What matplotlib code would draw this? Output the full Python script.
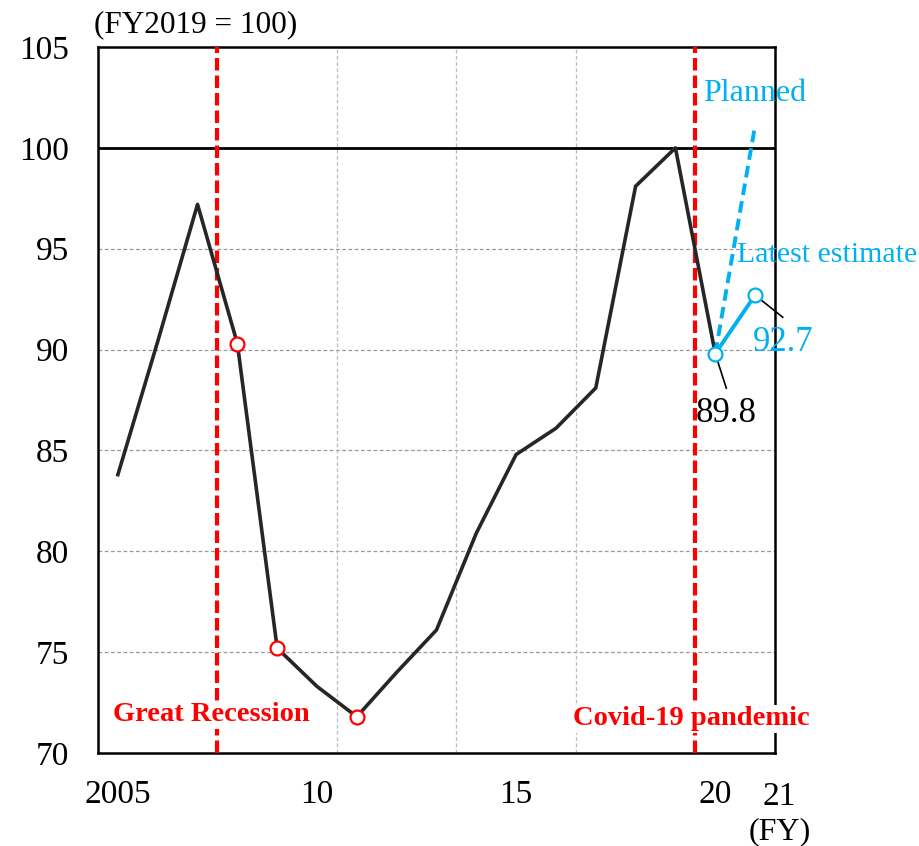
import matplotlib
matplotlib.use("Agg")
import matplotlib.pyplot as plt

# Index of activity (FY2019 = 100)
years = [2005, 2006, 2007, 2008, 2009, 2010, 2011, 2012, 2013, 2014,
         2015, 2016, 2017, 2018, 2019, 2020]
values = [83.8, 90.4, 97.2, 90.3, 75.2, 73.3, 71.8, 74.0, 76.1, 80.9,
          84.8, 86.1, 88.1, 98.1, 100.0, 89.8]
marked_years = [2008, 2009, 2011]

planned_years = [2020, 2021]
planned_values = [89.8, 101.1]
latest_years = [2020, 2021]
latest_values = [89.8, 92.7]

recession_lines = [2007.5, 2019.5]
xtick_pos = [2005, 2010, 2015, 2020]
xtick_labels = ["2005", "10", "15", "20"]

RED = "#FF0000"
BLUE = "#00B0F0"
DARK = "#262626"

plt.rcParams["font.family"] = ["Liberation Serif", "DejaVu Serif"]

fig = plt.figure(figsize=(9.19, 8.46), dpi=100)
ax = fig.add_axes([0.1066, 0.1099, 0.7367, 0.8345])

ax.set_xlim(2004.5, 2021.5)
ax.set_ylim(70, 105)
ax.set_yticks(range(70, 106, 5))
ax.tick_params(axis="y", length=0, labelsize=24, pad=21)
ax.set_xticks(xtick_pos, labels=xtick_labels)
ax.tick_params(axis="x", length=0, labelsize=24, pad=19)

for y in range(75, 100, 5):
    ax.axhline(y, color="#999999", lw=0.9, ls=(0, (3, 2)), zorder=1)
for x in [2010.5, 2013.5, 2016.5]:
    ax.axvline(x, color="#BBBBBB", lw=0.9, ls=(0, (3, 2)), zorder=1)
ax.axhline(100, color="black", lw=2, zorder=2)

for x in recession_lines:
    ax.axvline(x, color=RED, lw=3, ls=(0, (3, 1.2)), zorder=3)

for s in ax.spines.values():
    s.set_linewidth(1.8)

ax.plot(years, values, color=DARK, lw=2.6, zorder=4)
mk = [values[years.index(y)] for y in marked_years]
ax.plot(marked_years, mk, ls="none", marker="o", ms=10, mfc="white",
        mec=RED, mew=1.6, zorder=5)

ax.plot(planned_years, planned_values, color=BLUE, lw=2.8,
        ls=(0, (3, 1.6)), zorder=4)
ax.plot(latest_years, latest_values, color=BLUE, lw=2.8, marker="o",
        ms=10, mfc="white", mec=BLUE, mew=1.6, zorder=5)

# value labels with leader lines
ax.annotate("", xy=(latest_years[0], latest_values[0]), xytext=(8, -25),
            textcoords="offset points",
            arrowprops=dict(arrowstyle="-", color="black", lw=1.2,
                            shrinkA=0, shrinkB=0))
ax.annotate(f"{latest_values[0]}", xy=(latest_years[0], latest_values[0]),
            xytext=(8, -43), textcoords="offset points",
            ha="center", va="center", fontsize=25, color="black")
ax.annotate("", xy=(latest_years[1], latest_values[1]), xytext=(20, -16),
            textcoords="offset points",
            arrowprops=dict(arrowstyle="-", color="black", lw=1.2,
                            shrinkA=0, shrinkB=0))
ax.annotate(f"{latest_values[1]}", xy=(latest_years[1], latest_values[1]),
            xytext=(20, -34), textcoords="offset points",
            ha="center", va="center", fontsize=25, color=BLUE,
            annotation_clip=False)

ax.text(2021.0, 102.7, "Planned", ha="center", va="center", fontsize=23,
        color=BLUE)
ax.text(2022.8, 94.7, "Latest estimate", ha="center", va="center",
        fontsize=21.5, color=BLUE, clip_on=False)

ax.text(2007.35, 71.9, "Great Recession", ha="center", va="center",
        fontsize=20.5, fontweight="bold", color=RED, zorder=6,
        bbox=dict(facecolor="white", edgecolor="none", pad=1))
ax.text(2019.4, 71.7, "Covid-19 pandemic", ha="center", va="center",
        fontsize=20.5, fontweight="bold", color=RED, zorder=6, clip_on=False,
        bbox=dict(facecolor="white", edgecolor="none", pad=1))

fig.text(196 / 919, 1 - 25 / 846, "(FY2019 = 100)", ha="center",
         va="center", fontsize=22.5)
fig.text(779 / 919, 1 - 797 / 846, "21", ha="center", va="center",
         fontsize=24)
fig.text(780 / 919, 1 - 832 / 846, "(FY)", ha="center", va="center",
         fontsize=23)

fig.savefig("out.png", dpi=100)
